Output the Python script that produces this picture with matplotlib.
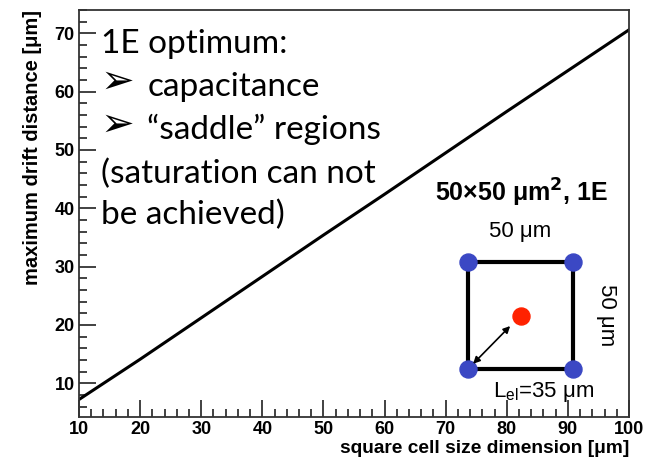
import numpy as np
import matplotlib.pyplot as plt
from matplotlib.ticker import MultipleLocator

# cell size vs max drift distance
cell_size = [10, 20, 30, 40, 50, 60, 70, 80, 90, 100]
drift_dist = [7.2, 14.1, 21.2, 28.3, 35.4, 42.4, 49.5, 56.6, 63.6, 70.6]

notes = ["1E optimum:", "capacitance", "\u201csaddle\u201d regions",
         "(saturation can not", "be achieved)"]
bullet = [False, True, True, False, False]

# inset sketch: square cell with 4 electrodes, centre point
pitch = 50
corner_x = [0, 50, 0, 50]
corner_y = [0, 0, 50, 50]

fig = plt.figure(figsize=(6.47, 4.62), dpi=100)
ax = fig.add_axes([79/647, 45/462, 550/647, 407/462])
ax.plot(cell_size, drift_dist, color='black', lw=2.2)
ax.set_xlim(10, 100)
ax.set_ylim(4.2, 74)
ax.xaxis.set_major_locator(MultipleLocator(10))
ax.xaxis.set_minor_locator(MultipleLocator(2))
ax.yaxis.set_major_locator(MultipleLocator(10))
ax.yaxis.set_minor_locator(MultipleLocator(2))
ax.tick_params(which='both', direction='in', top=False, right=False, color='#333333', width=1.3)
ax.tick_params(which='major', length=12, labelsize=13, pad=3)
ax.tick_params(which='minor', length=6)
for lab in ax.get_xticklabels() + ax.get_yticklabels():
    lab.set_fontweight('bold')
    lab.set_family('Liberation Sans')
for s in ax.spines.values():
    s.set_color('#333333')
    s.set_linewidth(1.3)
ax.set_xlabel('square cell size dimension [\u03bcm]', fontsize=13.8, fontweight='bold',
              family='Liberation Sans', loc='right', labelpad=1)
ax.set_ylabel('maximum drift distance [\u03bcm]', fontsize=14.5, fontweight='bold',
              family='Liberation Sans', loc='top', labelpad=9)

ys = [0.894, 0.789, 0.683, 0.575, 0.474]
for t, b, y in zip(notes, bullet, ys):
    if b:
        ax.text(0.04, y + 0.008, "\u27a2", transform=ax.transAxes, fontsize=29, va='baseline',
                family=['DejaVu Sans'])
        ax.text(0.124, y, t, transform=ax.transAxes, fontsize=24, va='baseline',
                family=['Lato', 'DejaVu Sans'])
    else:
        ax.text(0.04, y, t, transform=ax.transAxes, fontsize=24, va='baseline',
                family=['Lato', 'DejaVu Sans'])

ins = fig.add_axes([468/647, 93/462, 105/647, 107/462])
ins.set_xlim(0, pitch)
ins.set_ylim(0, pitch)
ins.axis('off')
ins.plot([0, 50, 50, 0, 0], [0, 0, 50, 50, 0], color='black', lw=3, clip_on=False)
ins.scatter(corner_x, corner_y, s=150, color='#3b48c4', zorder=3, clip_on=False)
ins.scatter([25], [25], s=150, color='#ff2200', zorder=3, clip_on=False)
ins.annotate('', xy=(1.5, 1.5), xytext=(21, 21),
             arrowprops=dict(arrowstyle='<|-|>', color='black', lw=1.2, mutation_scale=10))
ins.text(25.7, 78, '50\u00d750 \u03bcm$^\\mathbf{2}$, 1E', fontsize=18, fontweight='bold',
         family='Liberation Sans', ha='center', va='baseline')
ins.text(24.8, 61.7, '50 \u03bcm', fontsize=16, family='Liberation Sans', ha='center',
         va='baseline')
ins.text(66, 25, '50 \u03bcm', fontsize=16, family='Liberation Sans', ha='center', va='center',
         rotation=-90)
ins.text(36, -13, 'L$_{\\mathregular{el}}$=35 \u03bcm', fontsize=16, family='Liberation Sans',
         ha='center', va='baseline')

plt.savefig('out.png', dpi=100)
